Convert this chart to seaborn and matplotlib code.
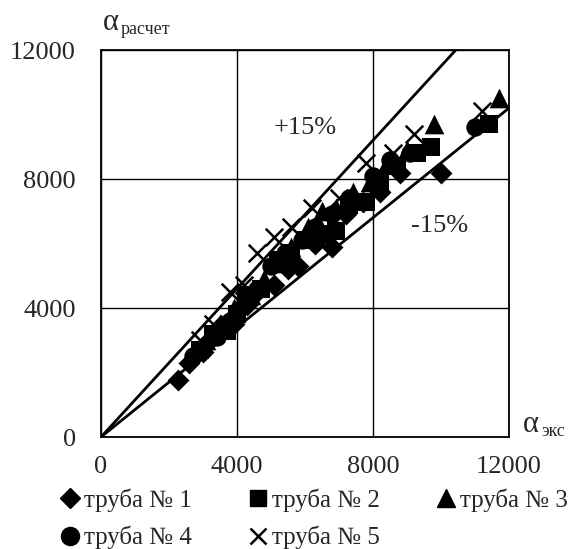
import matplotlib
matplotlib.use("Agg")
import matplotlib.pyplot as plt
import seaborn as sns
import pandas as pd
from matplotlib.lines import Line2D

sns.set_theme(style="white")
plt.rcParams['font.family'] = ['Liberation Serif', 'DejaVu Serif']

# --- data (α_экс, α_расчет) ---
t1_x = [2270, 2600, 3000, 3300, 3600, 3900, 4300, 4600, 5100, 5500, 5800, 6300, 6800, 7200, 7700, 8200, 8800, 10000]
t1_y = [1770, 2300, 2650, 3100, 3400, 3500, 4100, 4500, 4700, 5200, 5300, 6000, 5900, 6900, 7300, 7600, 8200, 8200]
t2_x = [2900, 3300, 3700, 4000, 4300, 4700, 5200, 5600, 6000, 6500, 6900, 7300, 7800, 8200, 8700, 9300, 9700, 11400]
t2_y = [2700, 3200, 3300, 3800, 4400, 4600, 5500, 5700, 6100, 6300, 6400, 7200, 7300, 7900, 8400, 8800, 9000, 9700]
t3_x = [3100, 3500, 3900, 4400, 4800, 5200, 5600, 6100, 6500, 6900, 7400, 7900, 8400, 9000, 9800, 11700]
t3_y = [3000, 3500, 4000, 4400, 4900, 5400, 5900, 6500, 7000, 7100, 7600, 7900, 8500, 8900, 9700, 10500]
t4_x = [2700, 3000, 3400, 3800, 4200, 4600, 5000, 5400, 5900, 6300, 6800, 7300, 8000, 8500, 9100, 11000]
t4_y = [2500, 2700, 3100, 3600, 4100, 4600, 5300, 5700, 6100, 6500, 6900, 7400, 8100, 8600, 8800, 9600]
t5_x = [2900, 3300, 3800, 4200, 4600, 5100, 5600, 6200, 6400, 7000, 7800, 8600, 9200, 11200]
t5_y = [3000, 3500, 4500, 4700, 5700, 6200, 6500, 7100, 6100, 7400, 8500, 8800, 9400, 10100]

series_names = ["труба № 1", "труба № 2", "труба № 3", "труба № 4", "труба № 5"]
xs = [t1_x, t2_x, t3_x, t4_x, t5_x]
ys = [t1_y, t2_y, t3_y, t4_y, t5_y]

ticks = [0, 4000, 8000, 12000]
band_upper = 1.15
band_lower = 0.85

rows = []
for name, xx, yy in zip(series_names, xs, ys):
    for a, b in zip(xx, yy):
        rows.append({"x": a, "y": b, "s": name})
df = pd.DataFrame(rows)

fig = plt.figure(figsize=(5.71, 5.49), dpi=100)
ax = fig.add_axes([0.1769, 0.204, 0.8914 - 0.1769, 0.9089 - 0.204])

markers = {"труба № 1": "D", "труба № 2": "s", "труба № 3": "^", "труба № 4": "o"}
sizes = {"труба № 1": 125, "труба № 2": 150, "труба № 3": 200, "труба № 4": 175}

for name in series_names:
    sub = df[df.s == name]
    if name == "труба № 5":
        ax.scatter(sub.x, sub.y, marker="x", s=160, c="black", linewidths=1.8, zorder=4)
    else:
        sns.scatterplot(data=sub, x="x", y="y", marker=markers[name], s=sizes[name],
                        color="black", edgecolor="black", linewidth=0, ax=ax, legend=False, zorder=4)

# ±15% lines
ax.plot([0, 12000], [0, 12000 * band_upper], color="black", lw=2, zorder=3)
ax.plot([0, 12000], [0, 12000 * band_lower], color="black", lw=2, zorder=3)

ax.set_xlim(0, 12000)
ax.set_ylim(0, 12000)
ax.set_xticks(ticks)
ax.set_yticks(ticks)
ax.set_xticklabels([str(t) for t in ticks], fontsize=19)
ax.set_yticklabels([str(t) for t in ticks], fontsize=19)
ax.tick_params(axis="x", length=0, pad=14)
ax.tick_params(axis="y", length=0, pad=18)
ax.grid(True, color="black", lw=1)
ax.set_axisbelow(True)
for sp in ax.spines.values():
    sp.set_color("black")
    sp.set_linewidth(1.3)
ax.set_xlabel("")
ax.set_ylabel("")

ax.text(6000, 9580, "+15%", fontsize=19, ha="center", va="center")
ax.text(9970, 6540, "-15%", fontsize=19, ha="center", va="center")

# axis titles
fig.text(103 / 571, 1 - 22 / 549, "α", fontsize=22, ha="left", va="center")
fig.text(121 / 571, 1 - 29 / 549, "расчет", fontsize=13, ha="left", va="center")
fig.text(523 / 571, 1 - 424 / 549, "α", fontsize=22, ha="left", va="center")
fig.text(541 / 571, 1 - 431 / 549, "экс", fontsize=13, ha="left", va="center")

# legend
handles = [
    Line2D([], [], marker="D", color="black", ls="", markersize=10),
    Line2D([], [], marker="s", color="black", ls="", markersize=12),
    Line2D([], [], marker="^", color="black", ls="", markersize=13),
    Line2D([], [], marker="o", color="black", ls="", markersize=13),
    Line2D([], [], marker="x", color="black", ls="", markersize=12, markeredgewidth=1.8),
]
order = [0, 3, 1, 4, 2]
fig.legend([handles[i] for i in order], [series_names[i] for i in order],
           loc="upper left", bbox_to_anchor=(49 / 571, 1 - 476 / 549), ncol=3,
           frameon=False, fontsize=18, handletextpad=0.2, columnspacing=2.3,
           labelspacing=0.55, handlelength=0.7, borderpad=0)

fig.savefig("out.png", dpi=100)
